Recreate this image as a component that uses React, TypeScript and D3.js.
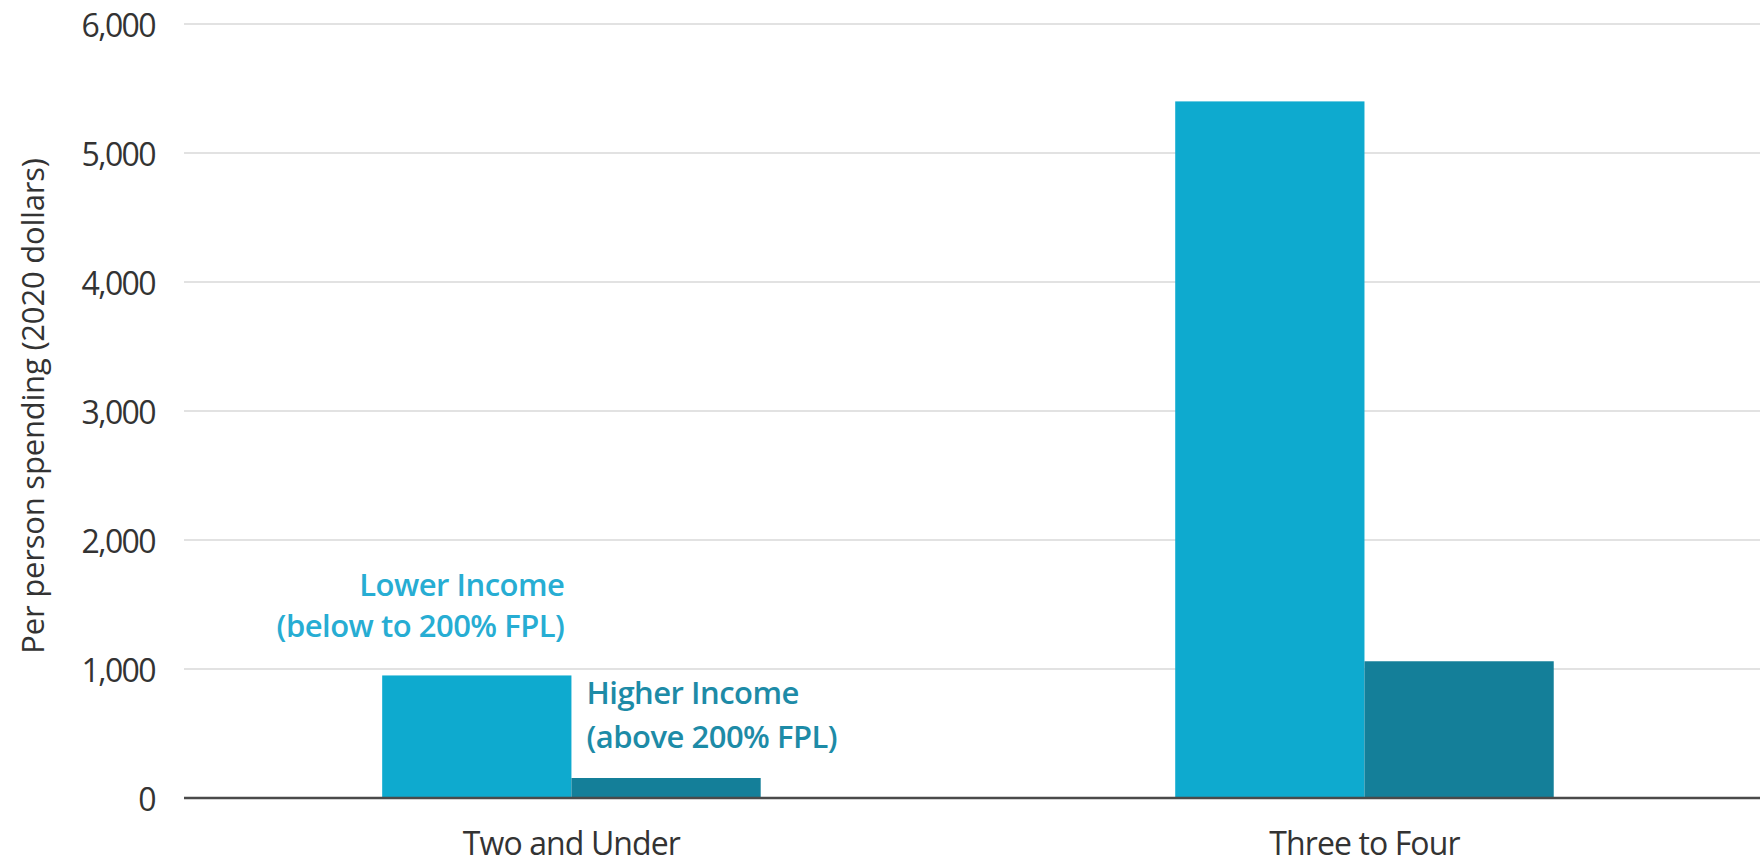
import React from "react";
import * as d3 from "d3";

const categories = ["Two and Under", "Three to Four"];
const seriesNames = ["Lower Income", "Higher Income"];
const lowerIncome = [950, 5400];
const higherIncome = [155, 1060];
const yTicks = [0, 1000, 2000, 3000, 4000, 5000, 6000];
const seriesColors = ["#0eaacf", "#147f99"];
const labelColors = ["#27add3", "#1d8ba7"];
const labelLines = [
  ["Lower Income", "(below to 200% FPL)"],
  ["Higher Income", "(above 200% FPL)"],
];

const W = 1760;
const H = 865;
const FONT = "'Open Sans', 'Noto Sans', sans-serif";

export default function App() {
  const x0 = d3
    .scaleBand<string>()
    .domain(categories)
    .range([184, 1760])
    .paddingInner(0.5227)
    .paddingOuter(0.255)
    .align(0.49);
  const x1 = d3
    .scaleBand<string>()
    .domain(seriesNames)
    .range([0, x0.bandwidth()])
    .padding(0);
  const y = d3.scaleLinear().domain([0, 6000]).range([798, 24]);
  const fmt = d3.format(",");
  const values = [lowerIncome, higherIncome];

  const c0 = x0(categories[0])!;
  const lowerRight = c0 + x1(seriesNames[0])! + x1.bandwidth();
  const higherLeft = c0 + x1(seriesNames[1])!;

  return (
    <svg
      width={W}
      height={H}
      style={{ position: "absolute", left: 0, top: 0, background: "#fff" }}
      fontFamily={FONT}
    >
      {/* gridlines */}
      {yTicks
        .filter((t) => t !== 0)
        .map((t) => (
          <line
            key={"g" + t}
            x1={184}
            x2={W}
            y1={y(t)}
            y2={y(t)}
            stroke="#e2e2e2"
            strokeWidth={2}
          />
        ))}
      {/* tick labels */}
      {yTicks.map((t) => (
        <text
          key={"t" + t}
          x={155}
          y={y(t)}
          textAnchor="end"
          dominantBaseline="central"
          fontSize={32}
          letterSpacing={-1.6}
          fill="#333"
        >
          {fmt(t)}
        </text>
      ))}
      {/* bars */}
      {categories.map((c, ci) =>
        seriesNames.map((s, si) => {
          const v = values[si][ci];
          return (
            <rect
              key={c + s}
              x={x0(c)! + x1(s)!}
              y={y(v)}
              width={x1.bandwidth()}
              height={y(0) - y(v)}
              fill={seriesColors[si]}
            />
          );
        })
      )}
      {/* baseline */}
      <line x1={184} x2={W} y1={y(0)} y2={y(0)} stroke="#4a4a4a" strokeWidth={2.5} />
      {/* category labels */}
      {categories.map((c) => (
        <text
          key={"c" + c}
          x={x0(c)! + x0.bandwidth() / 2}
          y={855}
          textAnchor="middle"
          fontSize={32}
          letterSpacing={-0.9}
          fill="#333"
        >
          {c}
        </text>
      ))}
      {/* y axis title */}
      <text
        transform={`translate(44,406) rotate(-90)`}
        textAnchor="middle"
        fontSize={31}
        letterSpacing={-0.2}
        fill="#333"
      >
        Per person spending (2020 dollars)
      </text>
      {/* series labels */}
      <text
        textAnchor="end"
        fontSize={31}
        fontWeight={600}
        letterSpacing={-0.5}
        fill={labelColors[0]}
      >
        <tspan x={lowerRight - 7} y={596}>{labelLines[0][0]}</tspan>
        <tspan x={lowerRight - 7} y={637}>{labelLines[0][1]}</tspan>
      </text>
      <text
        textAnchor="start"
        fontSize={31}
        fontWeight={600}
        letterSpacing={-0.5}
        fill={labelColors[1]}
      >
        <tspan x={higherLeft + 15} y={704}>{labelLines[1][0]}</tspan>
        <tspan x={higherLeft + 15} y={748}>{labelLines[1][1]}</tspan>
      </text>
    </svg>
  );
}
